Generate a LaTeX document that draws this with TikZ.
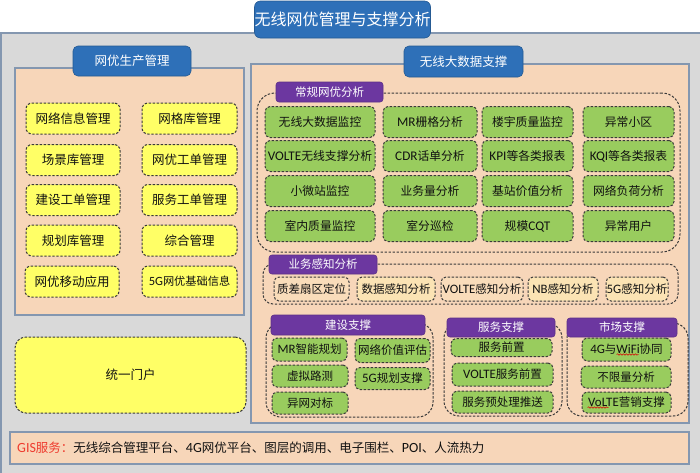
\documentclass[tikz,border=0pt]{standalone}
\usepackage{fontspec}
\setmainfont{Noto Sans CJK SC}
\newfontfamily\lat[Scale=1.12]{Carlito}
\usetikzlibrary{decorations.pathmorphing}
\definecolor{bggray}{HTML}{D9D9D9}
\definecolor{frame}{HTML}{8497B0}
\definecolor{peach}{HTML}{F7D6B9}
\definecolor{hblue}{HTML}{2E70B8}
\definecolor{purp}{HTML}{6C37A0}
\definecolor{grn}{HTML}{99CC5E}
\definecolor{ylw}{HTML}{FFFF66}
\definecolor{tanA}{HTML}{F9DCBA}
\definecolor{tanB}{HTML}{FBE3B4}
\definecolor{dashc}{HTML}{3A3A3A}
\definecolor{gisred}{HTML}{EE3B2E}
\definecolor{txt}{HTML}{111111}
\tikzset{
  fs/.style={font=\fontsize{#1}{#1}\selectfont},
  sz/.style 2 args={minimum width=#1pt, minimum height=#2pt},
  dbox/.style={draw=dashc, dash pattern=on 2.4pt off 1.6pt, line width=1pt, rounded corners=5pt, inner sep=0pt, text=txt},
  ybox/.style={dbox, fill=ylw, rounded corners=6pt, fs=12.5},
  gbox/.style={dbox, fill=grn, fs=11.8},
  sbox/.style={dbox, fill=grn, fs=11.5},
  tbox/.style={dbox, fill=#1, fs=11.5},
  grp/.style={draw=dashc, dash pattern=on 2.4pt off 1.6pt, line width=1pt, rounded corners=#1, inner sep=0pt},
  panel/.style={fill=peach, draw=frame, line width=1.3pt, inner sep=0pt},
  hdr/.style={fill=hblue, draw=hblue!80!black, line width=0.6pt, rounded corners=5pt, text=white, inner sep=0pt, fs=12.5},
  plab/.style={fill=purp, draw=purp!85!black, line width=0.6pt, rounded corners=3pt, text=white, inner sep=0pt, fs=11.5},
  wavy/.style={draw=red!85!black, line width=0.5pt, decorate, decoration={snake, amplitude=0.7pt, segment length=3pt}},
}
\begin{document}
\begin{tikzpicture}[x=1pt, y=-1pt]
\useasboundingbox (0,0) rectangle (700,472);
% outer frame
\draw[fill=bggray, draw=frame, line width=1.5pt] (1,33) rectangle (720,495);
% title
\node[hdr, rounded corners=6pt, fs=16, sz={171}{37}] (title) at (342.5,19.5) {无线网优管理与支撑分析};
% panels
\node[panel, sz={229}{247}] (lp) at (129.5,191.5) {};
\node[panel, sz={438}{359}] (rp) at (470,243.5) {};
\node[panel, sz={679}{32}] (gis) at (349.5,448) {};
% headers
\node[hdr, sz={118}{30}] (h1) at (132,61) {网优生产管理};
\node[hdr, sz={119}{31}] (h2) at (463.5,61.5) {无线大数据支撑};
% left yellow boxes
\node[ybox, sz={94}{31}] (y11) at (73,118.5) {网络信息管理};
\node[ybox, sz={95}{31}] (y12) at (189.5,118.5) {网格库管理};
\node[ybox, sz={94}{31}] (y21) at (73,160) {场景库管理};
\node[ybox, sz={95}{31}] (y22) at (189.5,160) {网优工单管理};
\node[ybox, sz={94}{31}] (y31) at (73,200) {建设工单管理};
\node[ybox, sz={95}{31}] (y32) at (189.5,200) {服务工单管理};
\node[ybox, sz={94}{31}] (y41) at (73,240.5) {规划库管理};
\node[ybox, sz={95}{31}] (y42) at (189.5,240.5) {综合管理};
\node[ybox, sz={94}{31}] (y51) at (72,281.5) {网优移动应用};
\node[ybox, sz={95}{31}, fs=11.2] (y52) at (189.5,281.5) {{\lat 5G}网优基础信息};
% portal
\node[ybox, rounded corners=11pt, sz={231}{76}] (portal) at (130.5,375) {统一门户};
% group 1
\node[grp=18pt, sz={423}{159}] (g1) at (468.5,172.5) {};
\node[plab, sz={107}{20}] (l1) at (329.5,92) {常规网优分析};
\node[gbox, sz={110}{31}] (a11) at (320,122) {无线大数据监控};
\node[gbox, sz={94}{31}] (a12) at (430,122) {{\lat MR}栅格分析};
\node[gbox, sz={91}{31}] (a13) at (527.5,122) {楼宇质量监控};
\node[gbox, sz={91}{31}] (a14) at (628.5,122) {异常小区};
\node[gbox, sz={110}{31}] (a21) at (320,156) {{\lat VOLTE}无线支撑分析};
\node[gbox, sz={94}{31}] (a22) at (430,156) {{\lat CDR}话单分析};
\node[gbox, sz={91}{31}] (a23) at (527.5,156) {{\lat KPI}等各类报表};
\node[gbox, sz={91}{31}] (a24) at (628.5,156) {{\lat KQI}等各类报表};
\node[gbox, sz={110}{31}] (a31) at (320,191) {小微站监控};
\node[gbox, sz={94}{31}] (a32) at (430,191) {业务量分析};
\node[gbox, sz={91}{31}] (a33) at (527.5,191) {基站价值分析};
\node[gbox, sz={91}{31}] (a34) at (628.5,191) {网络负荷分析};
\node[gbox, sz={110}{31}] (a41) at (320,226) {室内质量监控};
\node[gbox, sz={94}{31}] (a42) at (430,226) {室分巡检};
\node[gbox, sz={91}{31}] (a43) at (527.5,226) {规模{\lat CQT}};
\node[gbox, sz={91}{31}] (a44) at (628.5,226) {异常用户};
% group 2
\node[grp=10pt, sz={415}{40}] (g2) at (470.5,284) {};
\node[plab, sz={108}{19}] (l2) at (323,264.5) {业务感知分析};
\node[tbox=tanA, sz={75}{24}] (t1) at (311.5,289) {质差扇区定位};
\node[tbox=tanB, sz={78}{24}] (t2) at (396,289) {数据感知分析};
\node[tbox=tanA, sz={82}{24}] (t3) at (482,289) {{\lat VOLTE}感知分析};
\node[tbox=tanB, sz={70}{24}] (t4) at (563,289) {{\lat NB}感知分析};
\node[tbox=tanB, sz={62}{24}] (t5) at (637,289) {{\lat 5G}感知分析};
% group 3
\node[grp=15pt, sz={167}{94}] (g3) at (349.5,370) {};
\node[plab, sz={154}{20}] (l3) at (348,325) {建设支撑};
\node[sbox, sz={75}{23}] (c1) at (309.5,349.5) {{\lat MR}智能规划};
\node[sbox, sz={75}{24}] (c2) at (392.5,350.5) {网络价值评估};
\node[sbox, sz={76}{22}] (c3) at (310,376) {虚拟路测};
\node[sbox, sz={75}{22}] (c4) at (392.5,378.5) {{\lat 5G}规划支撑};
\node[sbox, sz={76}{22}] (c5) at (310,403) {异网对标};
% group 4
\node[grp=15pt, sz={118}{93}] (g4) at (503,369.5) {};
\node[plab, sz={108}{19}] (l4) at (501,327.5) {服务支撑};
\node[sbox, sz={101}{18}] (s1) at (501.5,347.5) {服务前置};
\node[sbox, sz={101}{23}] (s2) at (502.5,374.5) {{\lat VOLTE}服务前置};
\node[sbox, sz={101}{22}] (s3) at (502.5,402) {服务预处理推送};
% group 5
\node[grp=15pt, sz={121}{93}] (g5) at (627.5,369.5) {};
\node[plab, sz={110}{19}] (l5) at (622,327.5) {市场支撑};
\node[sbox, sz={89}{23}] (m1) at (626.5,349.5) {{\lat 4G}与{\lat WiFi}协同};
\node[sbox, sz={90}{22}] (m2) at (626,377) {不限量分析};
\node[sbox, sz={89}{21}] (m3) at (626.5,402.5) {{\lat VoLTE}营销支撑};
\draw[wavy] ([xshift=-10pt, yshift=-5pt]m1.center) -- ([xshift=12pt, yshift=-5pt]m1.center);
\draw[wavy] ([xshift=-39pt, yshift=-5pt]m3.center) -- ([xshift=-18pt, yshift=-5pt]m3.center);
% GIS text
\node[anchor=west, inner sep=0pt, fs=12.5, text=txt] (gist) at (17,448) {{\color{gisred}{\lat GIS}服务：}无线综合管理平台、{\lat 4G}网优平台、图层的调用、电子围栏、{\lat POI}、人流热力};
\end{tikzpicture}
\end{document}
